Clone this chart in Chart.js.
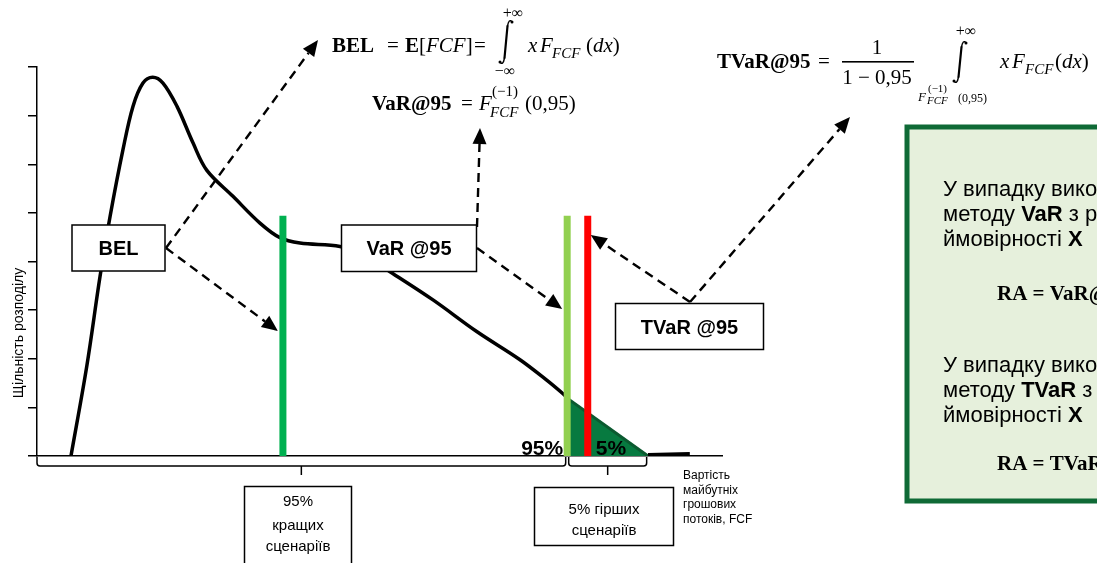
<!DOCTYPE html>
<html lang="uk">
<head>
<meta charset="utf-8">
<title>BEL, VaR@95, TVaR@95</title>
<script src="https://cdn.jsdelivr.net/npm/chart.js@4.4.1/dist/chart.umd.min.js"></script>
<style>
  html, body { margin: 0; padding: 0; background: #fff; }
  #wrap { width: 1097px; height: 563px; overflow: hidden; }
</style>
</head>
<body>
<div id="wrap"><canvas id="riskChart" width="1097" height="563"></canvas></div>
<script>
// =================== data ===================

// density curve of future cash flows (FCF), x in arbitrary value units 0..100
const curveX = [4.96, 7.26, 9.2, 10.66, 12.55, 14.01, 15.47, 16.89, 18.39, 20.44, 22.77, 24.77,
                28.61, 32.55, 35.47, 38.39, 44.23, 47.88, 51.53, 57.81, 64.19, 70.51, 74.41, 76.79, 77.6];
const curveY = [0, 1.84, 3.69, 4.92, 6.3, 7.19, 7.67, 7.79, 7.67, 7.19, 6.44, 5.88,
                5.34, 4.79, 4.49, 4.38, 4.31, 4.12, 3.79, 3.21, 2.56, 1.98, 1.56, 1.28, 1.17];

// worst 5% tail (filled) and the flat end of the curve
const tailX = [77.6, 89.2];
const tailY = [1.17, 0];
const flatTailX = [89.2, 95.3];
const flatTailY = [0.03, 0.05];

// vertical markers
const markerNames = ['BEL', 'VaR@95', 'TVaR@95'];
const markerX = [35.9, 77.4, 80.4];
const markerTop = [4.94, 4.94, 4.94];
const markerColors = ['#00b050', '#92d050', '#ff0000'];

// shares of scenarios
const shareLabels = ['95%', '5%'];
const shareFrom = [0, 77.4];
const shareTo = [77.4, 89.0];

const yTickCount = 8;

// =================== helpers ===================
const SERIF = '"Liberation Serif", "DejaVu Serif", serif';
const SANS = '"Liberation Sans", Arial, sans-serif';

function put(ctx, s, x, y, font, align) {
  ctx.font = font;
  ctx.textAlign = align || 'left';
  ctx.fillText(s, x, y);
}

// draw text pieces one after another, returns end x
function seq(ctx, parts, x, y) {
  let cx = x;
  ctx.textAlign = 'left';
  parts.forEach(p => {
    ctx.font = p[1];
    ctx.fillText(p[0], cx, y + (p[2] || 0));
    cx += ctx.measureText(p[0]).width;
  });
  return cx;
}

function box(ctx, x, y, w, h) {
  ctx.save();
  ctx.fillStyle = '#fff';
  ctx.strokeStyle = '#000';
  ctx.lineWidth = 1.5;
  ctx.fillRect(x, y, w, h);
  ctx.strokeRect(x, y, w, h);
  ctx.restore();
}

function dashedArrow(ctx, x1, y1, x2, y2) {
  const ang = Math.atan2(y2 - y1, x2 - x1);
  const len = 16, half = 7;
  const bx = x2 - len * Math.cos(ang), by = y2 - len * Math.sin(ang);
  ctx.save();
  ctx.strokeStyle = '#000';
  ctx.fillStyle = '#000';
  ctx.lineWidth = 2.4;
  ctx.setLineDash([9, 6]);
  ctx.beginPath();
  ctx.moveTo(x1, y1);
  ctx.lineTo(bx, by);
  ctx.stroke();
  ctx.setLineDash([]);
  ctx.beginPath();
  ctx.moveTo(x2, y2);
  ctx.lineTo(bx + half * Math.sin(ang), by - half * Math.cos(ang));
  ctx.lineTo(bx - half * Math.sin(ang), by + half * Math.cos(ang));
  ctx.closePath();
  ctx.fill();
  ctx.restore();
}

// integral sign, slightly slanted like Cambria Math
function integral(ctx, cx, top, bot) {
  ctx.save();
  ctx.strokeStyle = '#000';
  ctx.fillStyle = '#000';
  ctx.lineCap = 'round';
  ctx.beginPath();
  ctx.lineWidth = 1.4;
  ctx.moveTo(cx + 6, top + 3);
  ctx.quadraticCurveTo(cx + 3, top - 1, cx + 1.5, top + 7);
  ctx.stroke();
  ctx.beginPath();
  ctx.lineWidth = 2.2;
  ctx.moveTo(cx + 1.5, top + 7);
  ctx.lineTo(cx - 1.5, bot - 7);
  ctx.stroke();
  ctx.beginPath();
  ctx.lineWidth = 1.4;
  ctx.moveTo(cx - 1.5, bot - 7);
  ctx.quadraticCurveTo(cx - 3, bot + 1, cx - 6, bot - 3);
  ctx.stroke();
  ctx.beginPath(); ctx.arc(cx + 6, top + 3, 1.5, 0, Math.PI * 2); ctx.fill();
  ctx.beginPath(); ctx.arc(cx - 6, bot - 3, 1.5, 0, Math.PI * 2); ctx.fill();
  ctx.restore();
}

function bracket(ctx, xa, xb, yTop, yBot) {
  const mid = (xa + xb) / 2;
  ctx.save();
  ctx.strokeStyle = '#000';
  ctx.lineWidth = 1.5;
  ctx.beginPath();
  ctx.moveTo(xa, yTop);
  ctx.lineTo(xa, yBot - 3);
  ctx.quadraticCurveTo(xa, yBot, xa + 3, yBot);
  ctx.lineTo(xb - 3, yBot);
  ctx.quadraticCurveTo(xb, yBot, xb, yBot - 3);
  ctx.lineTo(xb, yTop);
  ctx.moveTo(mid, yBot);
  ctx.lineTo(mid, yBot + 9);
  ctx.stroke();
  ctx.restore();
}

// =================== annotations drawn over the chart ===================
const diagramPlugin = {
  id: 'diagram',
  afterDraw(chart) {
    const ctx = chart.ctx;
    const xs = chart.scales.x, ys = chart.scales.y;
    const px = v => xs.getPixelForValue(v);
    const base = ys.getPixelForValue(0);
    ctx.save();
    ctx.fillStyle = '#000';
    ctx.textBaseline = 'alphabetic';

    // axis title
    ctx.save();
    ctx.translate(19, 333);
    ctx.rotate(-Math.PI / 2);
    ctx.textBaseline = 'middle';
    put(ctx, 'Щільність розподілу', 0, 0, '14px ' + SANS, 'center');
    ctx.restore();

    // share labels near the VaR line
    put(ctx, shareLabels[0], px(markerX[1]) - 4, base - 1, 'bold 21px ' + SANS, 'right');
    put(ctx, shareLabels[1], px(markerX[2]) + 8, base - 1, 'bold 21px ' + SANS, 'left');

    // brackets under the axis
    for (let i = 0; i < shareFrom.length; i++) {
      bracket(ctx, px(shareFrom[i]) + (i ? 1.5 : 0), px(shareTo[i]) - (i ? 0 : 1.5), base + 1, base + 10);
    }

    // dashed arrows
    dashedArrow(ctx, 166, 248, 318, 40);
    dashedArrow(ctx, 166, 248, px(markerX[0]) - 5, 331);
    dashedArrow(ctx, 477, 227, 480, 128);
    dashedArrow(ctx, 477, 248, px(markerX[1]) - 5, 309);
    dashedArrow(ctx, 690, 302, px(markerX[2]) + 3, 235);
    dashedArrow(ctx, 690, 302, 850, 117);

    // label boxes
    box(ctx, 72, 225, 93, 46);
    put(ctx, 'BEL', 118.5, 255, 'bold 20px ' + SANS, 'center');
    box(ctx, 341.5, 225, 135, 46.5);
    put(ctx, 'VaR @95', 409, 255, 'bold 20px ' + SANS, 'center');
    box(ctx, 615.5, 303.5, 148, 46);
    put(ctx, 'TVaR @95', 689.5, 334, 'bold 20px ' + SANS, 'center');

    // scenario boxes
    box(ctx, 244.5, 486.5, 107, 90);
    put(ctx, '95%', 298, 506, '15px ' + SANS, 'center');
    put(ctx, 'кращих', 298, 530, '15px ' + SANS, 'center');
    put(ctx, 'сценаріїв', 298, 551, '15px ' + SANS, 'center');
    box(ctx, 534.5, 487.5, 139, 58);
    put(ctx, '5% гірших', 604, 514, '15px ' + SANS, 'center');
    put(ctx, 'сценаріїв', 604, 535, '15px ' + SANS, 'center');

    // x axis caption
    ['Вартість', 'майбутніх', 'грошових', 'потоків, FCF'].forEach((s, i) => {
      put(ctx, s, 683, 479 + i * 14.5, '12px ' + SANS, 'left');
    });

    // formulas
    const R = '21px ' + SERIF, B = 'bold 21px ' + SERIF, I = 'italic 21px ' + SERIF;
    const SUB = 'italic 15px ' + SERIF;

    // BEL = E[FCF] = integral x F(dx)
    put(ctx, 'BEL', 332, 52, B);
    put(ctx, '=', 387, 52, R);
    put(ctx, 'E', 405, 52, B);
    seq(ctx, [['[', R], ['FCF', I], [']', R]], 419, 52);
    put(ctx, '=', 474, 52, R);
    integral(ctx, 506, 19, 65);
    put(ctx, '+∞', 513, 18, '16px ' + SERIF, 'center');
    put(ctx, '−∞', 505, 76, '16px ' + SERIF, 'center');
    put(ctx, 'x', 528, 52, I);
    put(ctx, 'F', 540, 52, I);
    put(ctx, 'FCF', 552, 58, SUB);
    seq(ctx, [['(', R], ['dx', I], [')', R]], 586, 52);

    // VaR@95 = F^(-1)(0,95)
    put(ctx, 'VaR@95', 372, 110, B);
    put(ctx, '=', 461, 110, R);
    put(ctx, 'F', 479, 110, I);
    put(ctx, '(−1)', 492, 96, '15px ' + SERIF);
    put(ctx, 'FCF', 490, 117, SUB);
    put(ctx, '(0,95)', 525, 110, R);

    // TVaR@95 = 1/(1-0,95) integral x F(dx)
    put(ctx, 'TVaR@95', 717, 68, B);
    put(ctx, '=', 818, 68, R);
    put(ctx, '1', 877, 54, R, 'center');
    ctx.fillRect(842, 61, 72, 1.6);
    put(ctx, '1 − 0,95', 877, 84, R, 'center');
    integral(ctx, 960, 40, 84);
    put(ctx, '+∞', 966, 36, '16px ' + SERIF, 'center');
    put(ctx, 'F', 918, 101, 'italic 13px ' + SERIF);
    put(ctx, '(−1)', 928, 92, '11px ' + SERIF);
    put(ctx, 'FCF', 927, 104, 'italic 11px ' + SERIF);
    put(ctx, '(0,95)', 958, 102, '12px ' + SERIF);
    put(ctx, 'x', 1000, 68, I);
    put(ctx, 'F', 1012, 68, I);
    put(ctx, 'FCF', 1025, 74, SUB);
    seq(ctx, [['(', R], ['dx', I], [')', R]], 1055, 68);

    // right-hand note box (cut by the picture edge)
    ctx.save();
    ctx.fillStyle = '#e6f0dc';
    ctx.strokeStyle = '#0f6a36';
    ctx.lineWidth = 5;
    ctx.fillRect(907, 127, 220, 374);
    ctx.strokeRect(907, 127, 220, 374);
    ctx.restore();
    const T = '22px ' + SANS, TB = 'bold 22px ' + SANS;
    put(ctx, 'У випадку використання', 943, 196, T);
    seq(ctx, [['методу ', T], ['VaR', TB], [' з рівнем', T]], 943, 221);
    seq(ctx, [['ймовірності ', T], ['X', TB]], 943, 246);
    put(ctx, 'RA = VaR@X − BEL', 997, 300, 'bold 21px ' + SERIF);
    put(ctx, 'У випадку використання', 943, 372, T);
    seq(ctx, [['методу ', T], ['TVaR', TB], [' з рівнем', T]], 943, 397);
    seq(ctx, [['ймовірності ', T], ['X', TB]], 943, 422);
    put(ctx, 'RA = TVaR@X − BEL', 997, 470, 'bold 21px ' + SERIF);

    ctx.restore();
  }
};

// =================== chart ===================
const toPoints = (xs, ys) => xs.map((v, i) => ({ x: v, y: ys[i] }));

const markerSets = markerNames.map((name, i) => ({
  label: name,
  data: [{ x: markerX[i], y: 0 }, { x: markerX[i], y: markerTop[i] }],
  borderColor: markerColors[i],
  borderWidth: 7,
  pointRadius: 0,
  fill: false
}));

const ctx = document.getElementById('riskChart');
const riskChart = new Chart(ctx, {
  type: 'line',
  data: {
    datasets: [
      ...markerSets,
      {
        label: 'density',
        data: toPoints(curveX, curveY),
        borderColor: '#000',
        borderWidth: 3.5,
        pointRadius: 0,
        tension: 0.35,
        fill: false
      },
      {
        label: 'flat tail',
        data: toPoints(flatTailX, flatTailY),
        borderColor: '#000',
        borderWidth: 3,
        pointRadius: 0,
        fill: false
      },
      {
        label: 'tail 5%',
        data: toPoints(tailX, tailY),
        borderColor: '#0b5a30',
        backgroundColor: '#077a40',
        borderWidth: 3,
        pointRadius: 0,
        fill: 'origin'
      }
    ]
  },
  options: {
    responsive: false,
    animation: false,
    layout: { padding: { top: 67, right: 375, left: 0, bottom: 0 } },
    plugins: {
      legend: { display: false },
      tooltip: { enabled: false }
    },
    scales: {
      x: {
        type: 'linear',
        min: 0,
        max: 100,
        ticks: { display: false },
        grid: { display: false },
        border: { color: '#000', width: 1.5 },
        afterFit: s => { s.height = 107; }
      },
      y: {
        type: 'linear',
        min: 0,
        max: yTickCount,
        ticks: { display: false, stepSize: 1 },
        grid: { drawOnChartArea: false, drawTicks: true, tickLength: 9, color: '#000', lineWidth: 1.5 },
        border: { color: '#000', width: 1.5 },
        afterFit: s => { s.width = 37; }
      }
    }
  },
  plugins: [diagramPlugin]
});
</script>
</body>
</html>
